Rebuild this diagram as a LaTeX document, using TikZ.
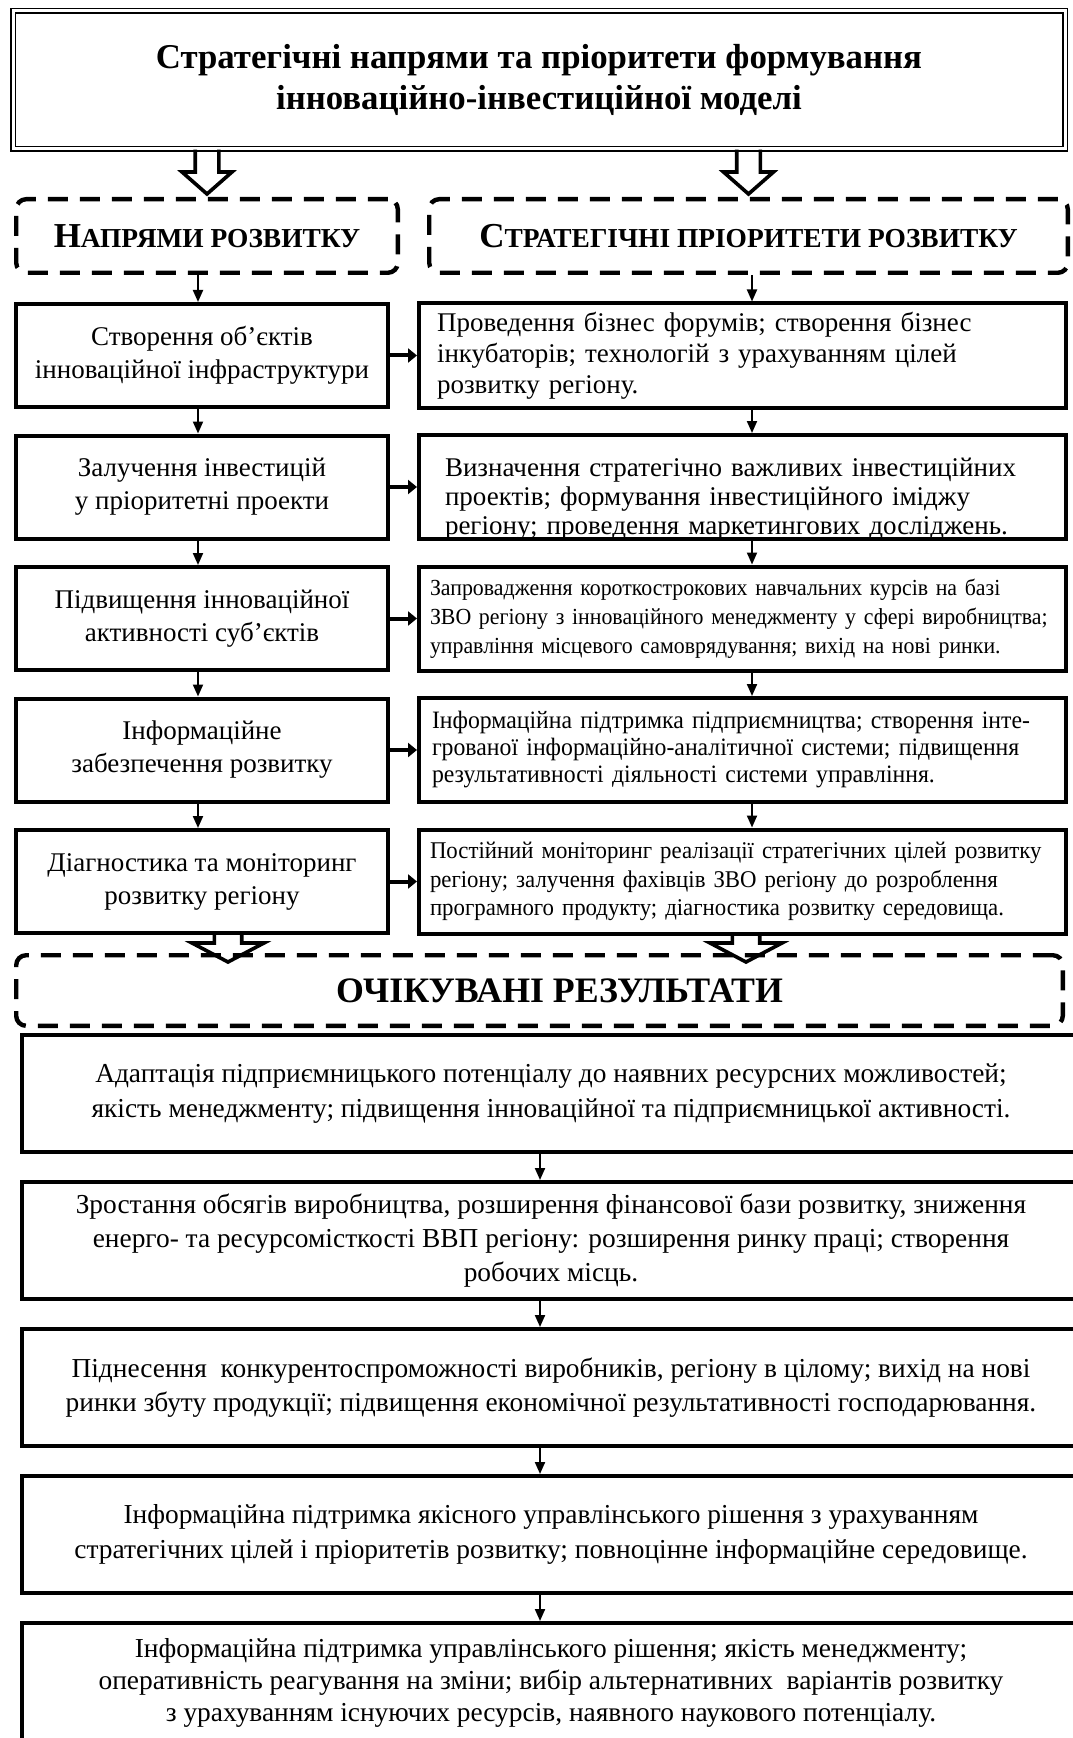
\documentclass[tikz,border=0pt]{standalone}
\usepackage{fontspec}
\setmainfont{Liberation Serif}
\newfontfamily\narrowserif[FakeStretch=0.95]{Liberation Serif}
\usetikzlibrary{positioning, arrows.meta, calc}

% wide hollow arrow pointing down: start, end, shaft half width, head half width, head length
\newcommand{\hollowdown}[5]{%
  \draw[hollow] let \p1=#1, \p2=#2 in
    (\x1-#3,\y1) -- (\x1-#3,\y2+#5) -- (\x1-#4,\y2+#5) -- (\x1,\y2)
    -- (\x1+#4,\y2+#5) -- (\x1+#3,\y2+#5) -- (\x1+#3,\y1);}

\begin{document}
\begin{tikzpicture}[
    node distance=12.25pt,
    header/.style={
        draw,
        double,
        double distance=1.5pt,
        line width=0.75pt,
        minimum width=526pt,
        minimum height=69pt,
        inner sep=0pt,
        align=center,
        font=\fontsize{17.4}{20.5}\selectfont\bfseries
    },
    dashbox/.style={
        draw,
        line width=2.2pt,
        dash pattern=on 10pt off 6pt,
        rounded corners=5pt,
        minimum height=36.8pt,
        inner sep=0pt,
        align=center,
        font=\bfseries
    },
    dirbox/.style={
        draw,
        line width=2pt,
        minimum width=186pt,
        minimum height=51.5pt,
        inner sep=2pt,
        align=center,
        font=\fontsize{13.5}{16.5}\selectfont
    },
    priobox/.style={
        draw,
        line width=2pt,
        minimum width=323.5pt,
        minimum height=52pt,
        inner ysep=2pt,
        align=left
    },
    resbox/.style={
        draw,
        line width=2pt,
        minimum width=529pt,
        minimum height=58.5pt,
        inner sep=2pt,
        align=center,
        font=\fontsize{13.7}{17.2}\selectfont
    },
    thinarrow/.style={-{Triangle[length=6pt, width=5pt]}, line width=1pt},
    sidearrow/.style={-{Triangle[length=4.5pt, width=7pt]}, line width=2pt},
    hollow/.style={line width=1.8pt, line join=miter}
]
\useasboundingbox (0,0) rectangle (536pt,-869pt);

\node[header] (title) at (269.5pt,-40pt)
    {Стратегічні напрями та пріоритети формування\\інноваційно-інвестиційної моделі};

\node[dashbox, minimum width=190.8pt] (dirs) at (103.5pt,-118pt)
    {{\fontsize{17.5}{20}\selectfont Н}{\fontsize{13.7}{16}\selectfont АПРЯМИ РОЗВИТКУ}};
\node[dashbox, minimum width=319.3pt] (prios) at (374.25pt,-118pt)
    {{\fontsize{17.5}{20}\selectfont С}{\fontsize{13.7}{16}\selectfont ТРАТЕГІЧНІ ПРІОРИТЕТИ РОЗВИТКУ}};

\hollowdown{(title.south -| dirs.north)}{([yshift=1.5pt]dirs.north)}{5.9pt}{12.5pt}{11pt}
\hollowdown{(title.south -| prios.north)}{([yshift=1.5pt]prios.north)}{5.9pt}{12.5pt}{11pt}

% Directions
\node[dirbox, below=13.5pt of dirs, xshift=-2.5pt] (l1) {Створення об’єктів\\інноваційної інфраструктури};
\node[dirbox, below=of l1] (l2) {Залучення інвестицій\\у пріоритетні проекти};
\node[dirbox, below=of l2] (l3) {Підвищення інноваційної\\активності суб’єктів};
\node[dirbox, below=of l3] (l4) {Інформаційне\\забезпечення розвитку};
\node[dirbox, below=of l4] (l5) {Діагностика та моніторинг\\розвитку регіону};

% Priorities
\node[priobox, right=13.5pt of l1, inner xsep=9pt, text width=305.5pt,
      font=\fontsize{13.5}{15.5}\selectfont] (r1)
    {Проведення бізнес форумів; створення бізнес\\інкубаторів; технологій з урахуванням цілей\\розвитку регіону.};
\node[priobox, right=13.5pt of l2, inner xsep=13pt, text width=297.5pt, inner ysep=0pt,
      text height=20.5pt, text depth=31.5pt, font=\fontsize{13.5}{14.5}\selectfont] (r2)
    {Визначення стратегічно важливих інвестиційних\\проектів; формування інвестиційного іміджу\\регіону; проведення маркетингових досліджень.};
\node[priobox, right=13.5pt of l3, inner xsep=5.5pt, text width=312.5pt,
      font=\narrowserif\fontsize{11.5}{14.5}\selectfont] (r3)
    {Запровадження короткострокових навчальних курсів на базі\\ЗВО регіону з інноваційного менеджменту у сфері виробництва;\\управління місцевого самоврядування; вихід на нові ринки.};
\node[priobox, right=13.5pt of l4, inner xsep=6.5pt, text width=310.5pt,
      font=\narrowserif\fontsize{12.5}{13.5}\selectfont] (r4)
    {Інформаційна підтримка підприємництва; створення інте-\\грованої інформаційно-аналітичної системи; підвищення\\результативності діяльності системи управління.};
\node[priobox, right=13.5pt of l5, inner xsep=5.5pt, text width=312.5pt,
      font=\narrowserif\fontsize{12}{14.25}\selectfont] (r5)
    {Постійний моніторинг реалізації стратегічних цілей розвитку\\регіону; залучення фахівців ЗВО регіону до розроблення\\програмного продукту; діагностика розвитку середовища.};

\draw[thinarrow] ($(l1.north |- dirs.south)+(-2pt,0)$) -- ([xshift=-2pt]l1.north);
\draw[thinarrow] ([xshift=-2pt]l1.south) -- ([xshift=-2pt]l2.north);
\draw[thinarrow] ([xshift=-2pt]l2.south) -- ([xshift=-2pt]l3.north);
\draw[thinarrow] ([xshift=-2pt]l3.south) -- ([xshift=-2pt]l4.north);
\draw[thinarrow] ([xshift=-2pt]l4.south) -- ([xshift=-2pt]l5.north);

\draw[thinarrow] ($(r1.north |- prios.south)+(4.75pt,0)$) -- ([xshift=4.75pt]r1.north);
\draw[thinarrow] ([xshift=4.75pt]r1.south) -- ([xshift=4.75pt]r2.north);
\draw[thinarrow] ([xshift=4.75pt]r2.south) -- ([xshift=4.75pt]r3.north);
\draw[thinarrow] ([xshift=4.75pt]r3.south) -- ([xshift=4.75pt]r4.north);
\draw[thinarrow] ([xshift=4.75pt]r4.south) -- ([xshift=4.75pt]r5.north);

\draw[sidearrow] (l1.east) -- (r1.west);
\draw[sidearrow] (l2.east) -- (r2.west);
\draw[sidearrow] (l3.east) -- (r3.west);
\draw[sidearrow] (l4.east) -- (r4.west);
\draw[sidearrow] (l5.east) -- (r5.west);

% Expected results
\node[dashbox, minimum width=523.3pt, minimum height=35.3pt,
      font=\fontsize{17.9}{20}\selectfont\bfseries] (results) at (269.75pt,-495.25pt)
    {\hspace*{20pt}ОЧІКУВАНІ РЕЗУЛЬТАТИ};

\hollowdown{([xshift=13pt]l5.south)}{($(l5.south |- results.north)+(13pt,-4.5pt)$)}{6.85pt}{18pt}{9.5pt}
\hollowdown{([xshift=1.75pt]r5.south)}{($(r5.south |- results.north)+(1.75pt,-4.5pt)$)}{6.85pt}{18pt}{9.5pt}

\node[resbox, below=2.5pt of results, xshift=5.75pt] (b1)
    {Адаптація підприємницького потенціалу до наявних ресурсних можливостей;\\якість менеджменту; підвищення інноваційної та підприємницької активності.};
\node[resbox, below=13pt of b1] (b2)
    {Зростання обсягів виробництва, розширення фінансової бази розвитку, зниження\\енерго- та ресурсомісткості ВВП регіону: розширення ринку праці; створення\\робочих місць.};
\node[resbox, below=13pt of b2] (b3)
    {Піднесення~ конкурентоспроможності виробників, регіону в цілому; вихід на нові\\ринки збуту продукції; підвищення економічної результативності господарювання.};
\node[resbox, below=13pt of b3] (b4)
    {Інформаційна підтримка якісного управлінського рішення з урахуванням\\стратегічних цілей і пріоритетів розвитку; повноцінне інформаційне середовище.};
\node[resbox, below=13pt of b4, minimum height=60pt, font=\fontsize{13.7}{16}\selectfont] (b5)
    {Інформаційна підтримка управлінського рішення; якість менеджменту;\\оперативність реагування на зміни; вибір альтернативних~ варіантів розвитку\\з урахуванням існуючих ресурсів, наявного наукового потенціалу.};

\draw[thinarrow] ([xshift=-5.5pt]b1.south) -- ([xshift=-5.5pt]b2.north);
\draw[thinarrow] ([xshift=-5.5pt]b2.south) -- ([xshift=-5.5pt]b3.north);
\draw[thinarrow] ([xshift=-5.5pt]b3.south) -- ([xshift=-5.5pt]b4.north);
\draw[thinarrow] ([xshift=-5.5pt]b4.south) -- ([xshift=-5.5pt]b5.north);

\end{tikzpicture}
\end{document}
